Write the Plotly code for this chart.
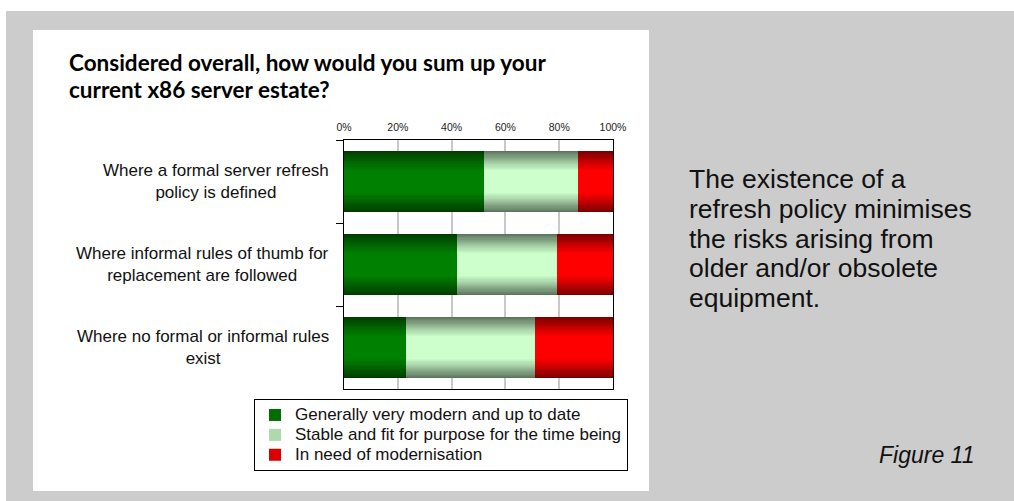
import plotly.graph_objects as go

# ---- data ----
categories = [
    "Where a formal server refresh<br>policy is defined",
    "Where informal rules of thumb for<br>replacement are followed",
    "Where no formal or informal rules<br>exist",
]
series_names = [
    "Generally very modern and up to date",
    "Stable and fit for purpose for the time being",
    "In need of modernisation",
]
modern = [52, 42, 23]
stable = [35, 37, 48]
modernise = [13, 21, 29]
tick_values = [0, 20, 40, 60, 80, 100]
tick_labels = ["0%", "20%", "40%", "60%", "80%", "100%"]

title_lines = [
    "Considered overall, how would you sum up your",
    "current x86 server estate?",
]
side_lines = [
    "The existence of a",
    "refresh policy minimises",
    "the risks arising from",
    "older and/or obsolete",
    "equipment.",
]
figure_label = "Figure 11"

# ---- styling ----
W, H = 1014, 501
PL, PR, PT, PB = 344, 613, 140, 389  # plot area in pixels
centre_cols = ["#008000", "#ccffcc", "#ff0000"]
edge_cols = ["#003c00", "#5c735c", "#780000"]
N_LAYERS = 18
BAR_W = 0.735
LEGEND_TEXT_PX = 17


def hex2rgb(h):
    h = h.lstrip("#")
    return [int(h[i:i + 2], 16) for i in (0, 2, 4)]


def mix(a, b, t):
    ca, cb = hex2rgb(a), hex2rgb(b)
    return "rgb(%d,%d,%d)" % tuple(round(ca[i] + (cb[i] - ca[i]) * t) for i in range(3))


def px_x(p):
    return (p - PL) / (PR - PL)


def px_y(p):
    return (PB - p) / (PB - PT)


fig = go.Figure()

# each stacked segment is a pile of overlaid bars that narrow towards the
# centre line and brighten, giving a dark-edged cylindrical shading
series = [modern, stable, modernise]
cum = [0, 0, 0]
for s, vals in enumerate(series):
    bases = list(cum)
    label = '<span style="font-size:%dpx">%s</span>' % (LEGEND_TEXT_PX, series_names[s])
    for k in range(N_LAYERS):
        t = k / (N_LAYERS - 1)
        frac = 1.0 - 0.62 * t
        fig.add_trace(go.Bar(
            y=categories, x=vals, base=bases, orientation="h",
            width=BAR_W * frac,
            marker=dict(color=mix(edge_cols[s], centre_cols[s], t ** 0.9), line=dict(width=0)),
            name=label, legendgroup=series_names[s],
            showlegend=(k == 12),
            hoverinfo="skip",
        ))
    cum = [c + v for c, v in zip(cum, vals)]

shapes = [
    dict(type="rect", xref="paper", yref="paper", layer="below",
         x0=px_x(6), x1=px_x(1014), y0=px_y(11), y1=px_y(501),
         fillcolor="#cccccc", line=dict(width=0)),
    dict(type="rect", xref="paper", yref="paper", layer="below",
         x0=px_x(33), x1=px_x(649), y0=px_y(30), y1=px_y(491),
         fillcolor="#ffffff", line=dict(width=0)),
]

annotations = []
for i, line in enumerate(title_lines):
    annotations.append(dict(
        text="<b>%s</b>" % line, xref="paper", yref="paper",
        x=px_x(67), y=px_y(62 + 28 * i), xanchor="left", yanchor="middle",
        showarrow=False, font=dict(family="Lato", size=22.5, color="#000000"),
    ))
n_cat = len(categories)
for i, cat in enumerate(categories):
    annotations.append(dict(
        text=cat, xref="paper", yref="paper", x=px_x(331), y=1 - (i + 0.5) / n_cat,
        xanchor="right", yanchor="middle", align="center", showarrow=False,
        font=dict(family="Liberation Sans", size=17, color="#111111"),
    ))
for i, line in enumerate(side_lines):
    annotations.append(dict(
        text=line, xref="paper", yref="paper",
        x=px_x(687), y=px_y(179 + 29.8 * i), xanchor="left", yanchor="middle",
        showarrow=False, font=dict(family="Liberation Sans", size=26.5, color="#111111"),
    ))
annotations.append(dict(
    text="<i>%s</i>" % figure_label, xref="paper", yref="paper",
    x=px_x(976), y=px_y(455), xanchor="right", yanchor="middle",
    showarrow=False, font=dict(family="Liberation Sans", size=23, color="#111111"),
))

fig.update_layout(
    width=W, height=H,
    margin=dict(l=PL, r=W - PR, t=PT, b=H - PB, pad=0),
    paper_bgcolor="#ffffff", plot_bgcolor="#ffffff",
    barmode="overlay", bargap=0,
    shapes=shapes, annotations=annotations,
    legend=dict(
        x=px_x(254), y=px_y(399), xanchor="left", yanchor="top",
        bgcolor="#ffffff", bordercolor="#000000", borderwidth=1,
        font=dict(family="Liberation Sans", size=13, color="#111111"),
        traceorder="normal", tracegroupgap=0, itemwidth=30,
    ),
    xaxis=dict(
        range=[0, 100], autorange=False, side="top",
        tickvals=tick_values, ticktext=tick_labels,
        showgrid=True, gridcolor="#c8c8c8", gridwidth=1.5,
        showline=True, linecolor="#000000", linewidth=1, mirror=True,
        ticks="", zeroline=False, fixedrange=True, ticklabelstandoff=4,
        tickfont=dict(family="Liberation Sans", size=10.5, color="#222222"),
    ),
    yaxis=dict(
        type="category", categoryorder="array", categoryarray=categories,
        range=[n_cat - 0.5, -0.5], autorange=False, showticklabels=False,
        ticks="outside", tickson="boundaries", ticklen=7, tickcolor="#000000",
        showline=True, linecolor="#000000", linewidth=1, mirror=True,
        showgrid=False, zeroline=False, fixedrange=True,
    ),
)

fig.write_html("out.html", config={"displayModeBar": False})
